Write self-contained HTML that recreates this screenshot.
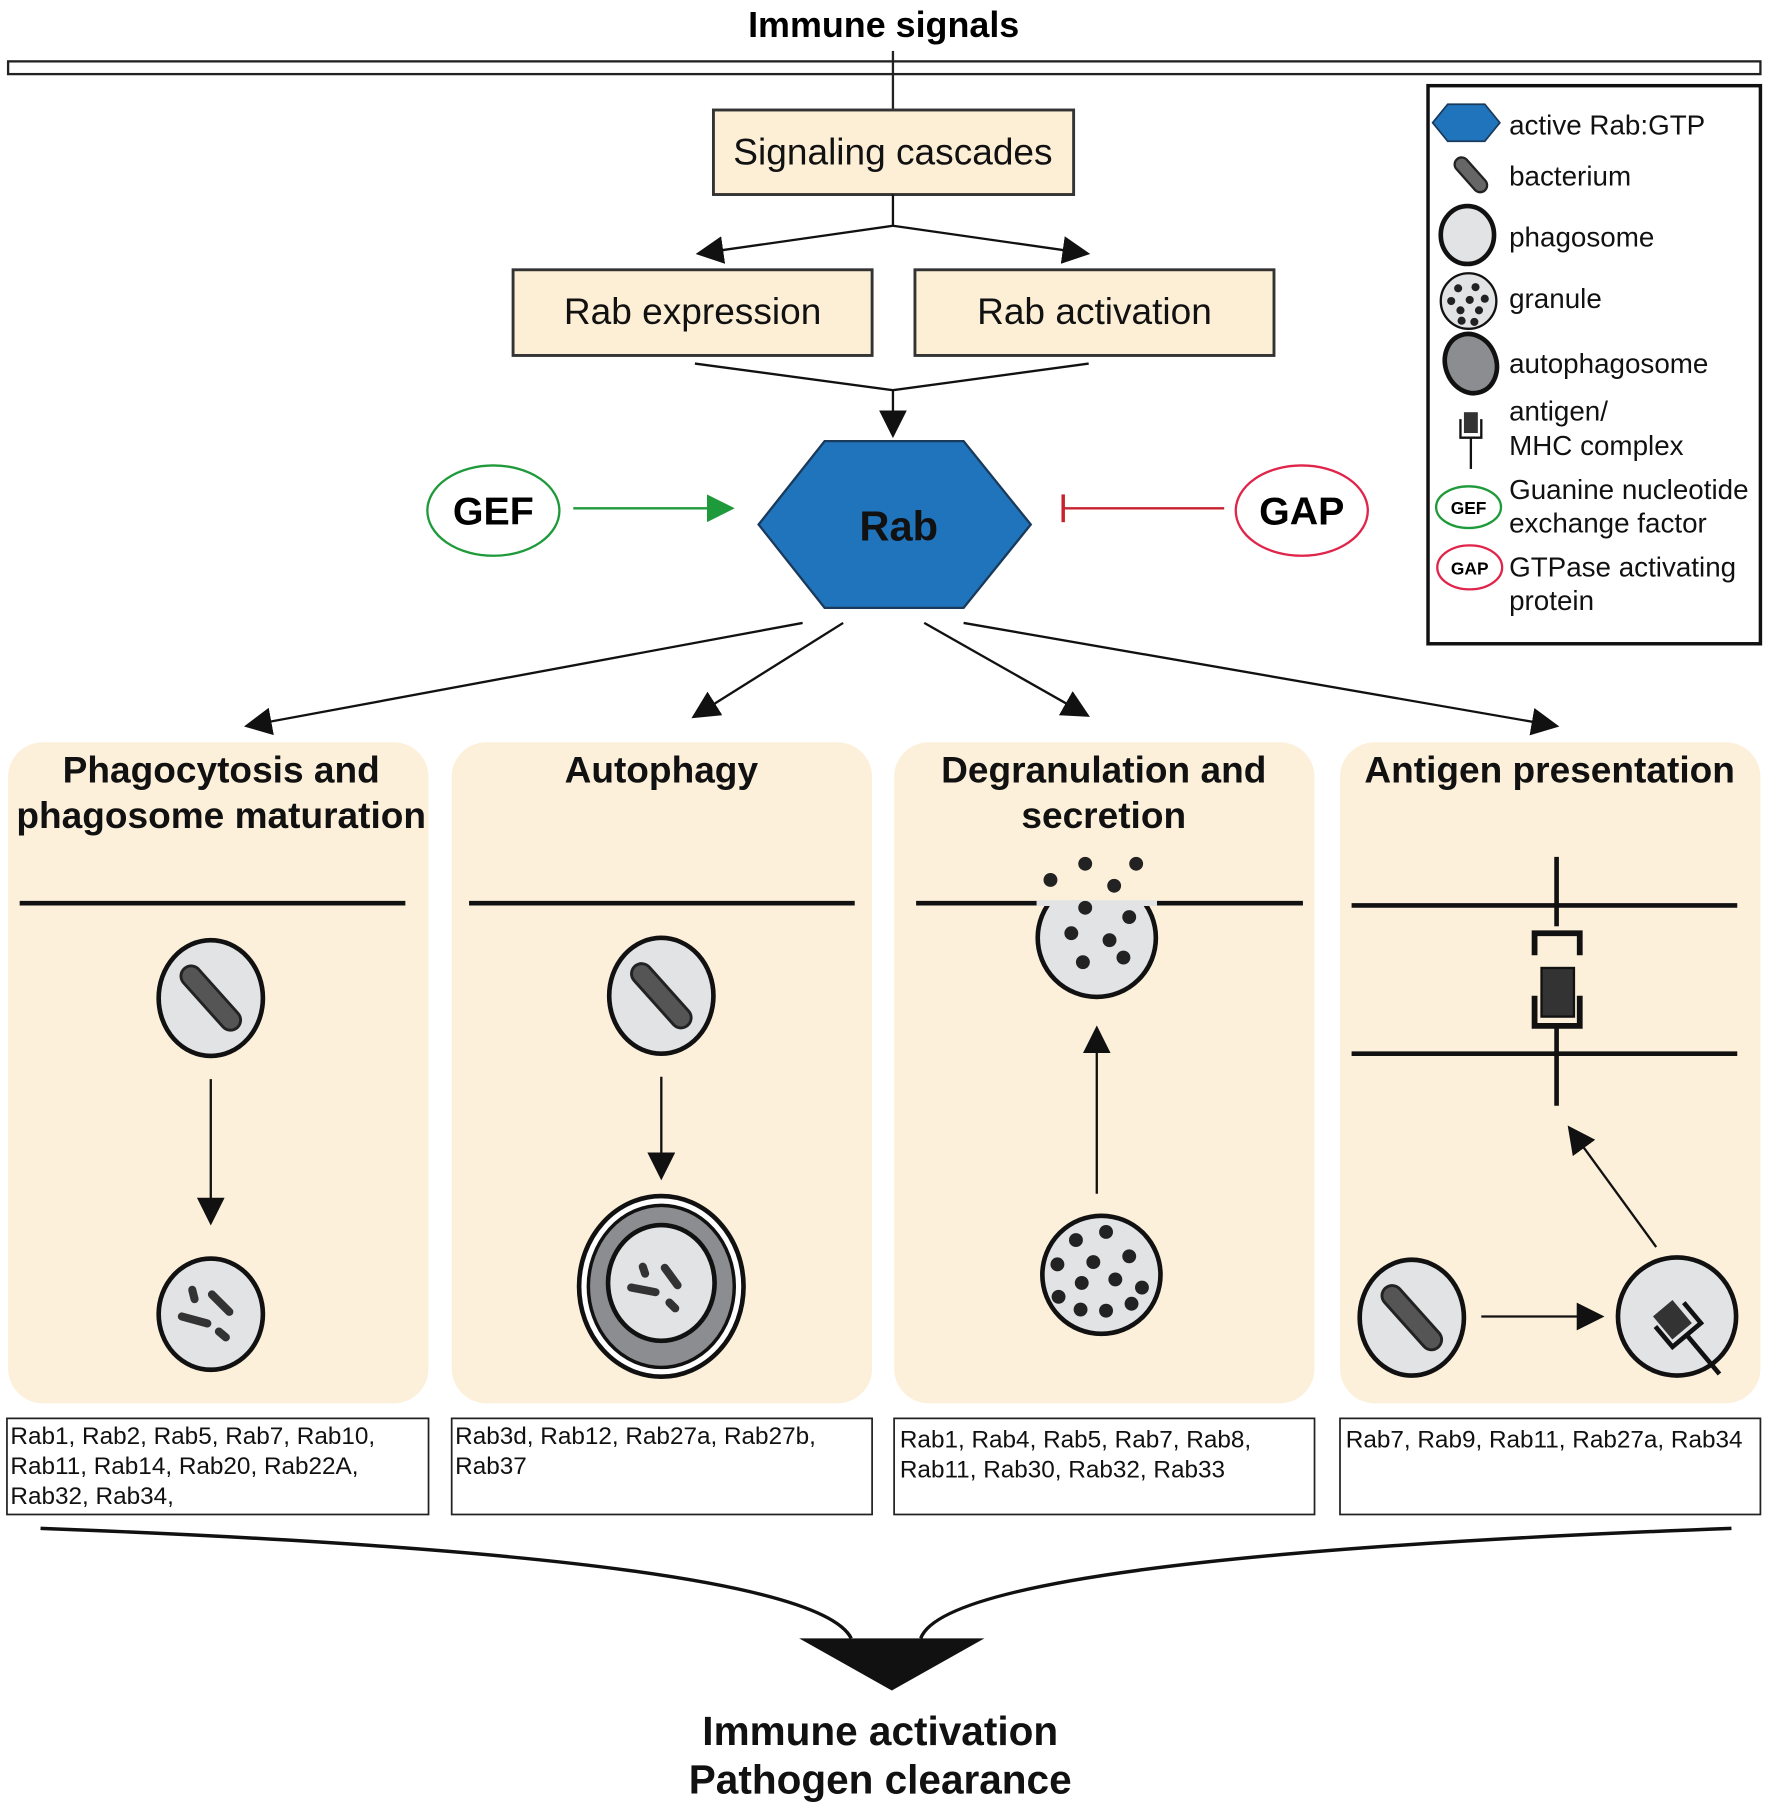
<!DOCTYPE html>
<html><head><style>
html,body{margin:0;padding:0;background:#fff;}
svg{display:block;font-family:"Liberation Sans",Arial,sans-serif;}
</style></head><body>
<svg width="1772" height="1819" viewBox="0 0 1530 1571" preserveAspectRatio="none" xmlns="http://www.w3.org/2000/svg">
<defs>
<marker id="ahb" viewBox="0 0 10 10" refX="9" refY="5" markerWidth="24" markerHeight="24" markerUnits="userSpaceOnUse" orient="auto"><path d="M0,0L10,5L0,10z" fill="#111"/></marker>
<marker id="ahg" viewBox="0 0 10 10" refX="9" refY="5" markerWidth="24" markerHeight="24" markerUnits="userSpaceOnUse" orient="auto"><path d="M0,0L10,5L0,10z" fill="#1f9a3a"/></marker>
</defs>
<text x="763" y="32" font-size="31" font-weight="bold" text-anchor="middle">Immune signals</text>
<rect x="7" y="53" width="1513" height="11" fill="#fff" stroke="#222" stroke-width="2"/>
<line x1="771" y1="44" x2="771" y2="95" stroke="#222" stroke-width="2"/>
<g fill="#fdefd6" stroke="#333" stroke-width="2.5">
<rect x="616" y="95" width="311" height="73"/>
<rect x="443" y="233" width="310" height="74"/>
<rect x="790" y="233" width="310" height="74"/>
</g>
<g font-size="32" text-anchor="middle" fill="#111">
<text x="771" y="142">Signaling cascades</text>
<text x="598" y="280">Rab expression</text>
<text x="945" y="280">Rab activation</text>
</g>
<g stroke="#111" stroke-width="2" fill="none">
<line x1="771" y1="168" x2="771" y2="195"/>
<line x1="771" y1="195" x2="603" y2="219" marker-end="url(#ahb)"/>
<line x1="771" y1="195" x2="939" y2="219" marker-end="url(#ahb)"/>
<polyline points="600,314 771,337 940,314"/>
<line x1="771" y1="337" x2="771" y2="376" marker-end="url(#ahb)"/>
<line x1="693" y1="538" x2="213" y2="627" marker-end="url(#ahb)"/>
<line x1="728" y1="538" x2="599" y2="619" marker-end="url(#ahb)"/>
<line x1="798" y1="538" x2="939" y2="618" marker-end="url(#ahb)"/>
<line x1="832" y1="538" x2="1344" y2="627" marker-end="url(#ahb)"/>
</g>
<polygon points="655,453 712,381 832,381 890,453 832,525 712,525" fill="#1f74bb" stroke="#1a3a5c" stroke-width="2"/>
<text x="776" y="467" font-size="36" font-weight="bold" text-anchor="middle" fill="#111">Rab</text>
<ellipse cx="426" cy="441" rx="57" ry="39" fill="#fff" stroke="#1f9a3a" stroke-width="2"/>
<text x="426" y="453" font-size="34" font-weight="bold" text-anchor="middle">GEF</text>
<line x1="495" y1="439" x2="632" y2="439" stroke="#1f9a3a" stroke-width="2" marker-end="url(#ahg)"/>
<ellipse cx="1124" cy="441" rx="57" ry="39" fill="#fff" stroke="#e0244a" stroke-width="2"/>
<text x="1124" y="453" font-size="34" font-weight="bold" text-anchor="middle">GAP</text>
<line x1="918" y1="439" x2="1057" y2="439" stroke="#c8222e" stroke-width="2"/>
<line x1="918" y1="427" x2="918" y2="451" stroke="#c8222e" stroke-width="3"/>
<rect x="1233" y="74" width="287" height="482" fill="#fff" stroke="#111" stroke-width="3"/>
<g font-size="24" fill="#111">
<text x="1303" y="116">active Rab:GTP</text>
<text x="1303" y="160">bacterium</text>
<text x="1303" y="213">phagosome</text>
<text x="1303" y="266">granule</text>
<text x="1303" y="322">autophagosome</text>
<text x="1303" y="363">antigen/</text>
<text x="1303" y="393">MHC complex</text>
<text x="1303" y="431">Guanine nucleotide</text>
<text x="1303" y="460">exchange factor</text>
<text x="1303" y="498">GTPase activating</text>
<text x="1303" y="527">protein</text>
</g>
<polygon points="1237,106 1250,90 1282,90 1295,106 1282,122 1250,122" fill="#1f74bb" stroke="#1a3a5c" stroke-width="1.5"/>
<line x1="1262" y1="142" x2="1278" y2="160" stroke="#222" stroke-width="14" stroke-linecap="round"/>
<line x1="1262" y1="142" x2="1278" y2="160" stroke="#666" stroke-width="10" stroke-linecap="round"/>
<ellipse cx="1267" cy="203" rx="23" ry="25" fill="#e2e3e5" stroke="#111" stroke-width="4"/>
<circle cx="1268" cy="260" r="24" fill="#e2e3e5" stroke="#111" stroke-width="2"/>
<g fill="#222"><circle cx="1259" cy="249" r="3.5"/><circle cx="1274" cy="248" r="3.5"/><circle cx="1253" cy="260" r="3.5"/><circle cx="1269" cy="259" r="3.5"/><circle cx="1282" cy="258" r="3.5"/><circle cx="1261" cy="268" r="3.5"/><circle cx="1277" cy="268" r="3.5"/><circle cx="1262" cy="277" r="3.5"/><circle cx="1273" cy="278" r="3.5"/></g>
<ellipse cx="1270" cy="314" rx="22" ry="26" fill="#8c8d90" stroke="#111" stroke-width="4" transform="rotate(-20 1270 314)"/>
<rect x="1264" y="356" width="12" height="18" fill="#333"/>
<polyline points="1261,362 1261,378 1279,378 1279,362" fill="none" stroke="#111" stroke-width="2"/>
<line x1="1270" y1="378" x2="1270" y2="405" stroke="#111" stroke-width="2"/>
<ellipse cx="1268" cy="438" rx="28" ry="18" fill="#fff" stroke="#1f9a3a" stroke-width="2"/>
<text x="1268" y="444" font-size="15" font-weight="bold" text-anchor="middle">GEF</text>
<ellipse cx="1269" cy="490" rx="28" ry="19" fill="#fff" stroke="#e0244a" stroke-width="2"/>
<text x="1269" y="496" font-size="15" font-weight="bold" text-anchor="middle">GAP</text>
<g fill="#fdf0db">
<rect x="7" y="641" width="363" height="571" rx="30"/>
<rect x="390" y="641" width="363" height="571" rx="30"/>
<rect x="772" y="641" width="363" height="571" rx="30"/>
<rect x="1157" y="641" width="363" height="571" rx="30"/>
</g>
<g font-size="32" font-weight="bold" text-anchor="middle" fill="#111">
<text x="191" y="676">Phagocytosis and</text>
<text x="191" y="715">phagosome maturation</text>
<text x="571" y="676">Autophagy</text>
<text x="953" y="676">Degranulation and</text>
<text x="953" y="715">secretion</text>
<text x="1338" y="676">Antigen presentation</text>
</g>
<g stroke="#111" stroke-width="4">
<line x1="17" y1="780" x2="350" y2="780"/>
<line x1="405" y1="780" x2="738" y2="780"/>
<line x1="791" y1="780" x2="1125" y2="780"/>
<line x1="1167" y1="782" x2="1500" y2="782"/>
<line x1="1167" y1="910" x2="1500" y2="910"/>
</g>
<ellipse cx="182" cy="862" rx="45" ry="50" fill="#e2e3e5" stroke="#111" stroke-width="4"/>
<line x1="165" y1="843" x2="199" y2="881" stroke="#222" stroke-width="20" stroke-linecap="round"/>
<line x1="165" y1="843" x2="199" y2="881" stroke="#555" stroke-width="15" stroke-linecap="round"/>
<line x1="182" y1="932" x2="182" y2="1056" stroke="#111" stroke-width="2" marker-end="url(#ahb)"/>
<ellipse cx="182" cy="1135" rx="45" ry="48" fill="#e2e3e5" stroke="#111" stroke-width="4"/>
<g stroke="#333" stroke-width="7" stroke-linecap="round"><line x1="166" y1="1114" x2="168" y2="1122"/><line x1="183" y1="1118" x2="198" y2="1133"/><line x1="157" y1="1137" x2="179" y2="1143"/><line x1="189" y1="1150" x2="195" y2="1155"/></g>
<ellipse cx="571" cy="860" rx="45" ry="50" fill="#e2e3e5" stroke="#111" stroke-width="4"/>
<line x1="554" y1="841" x2="588" y2="879" stroke="#222" stroke-width="20" stroke-linecap="round"/>
<line x1="554" y1="841" x2="588" y2="879" stroke="#555" stroke-width="15" stroke-linecap="round"/>
<line x1="571" y1="930" x2="571" y2="1017" stroke="#111" stroke-width="2" marker-end="url(#ahb)"/>
<ellipse cx="571" cy="1111" rx="71" ry="78" fill="#fff" stroke="#111" stroke-width="4"/>
<ellipse cx="571" cy="1111" rx="63" ry="70" fill="#8c8d90" stroke="#111" stroke-width="3"/>
<ellipse cx="571" cy="1108" rx="46" ry="50" fill="#e2e3e5" stroke="#111" stroke-width="4"/>
<g stroke="#333" stroke-width="7" stroke-linecap="round"><line x1="555" y1="1094" x2="557" y2="1100"/><line x1="574" y1="1095" x2="585" y2="1110"/><line x1="545" y1="1112" x2="566" y2="1116"/><line x1="578" y1="1125" x2="583" y2="1130"/></g>
<circle cx="947" cy="810" r="51" fill="#e2e3e5" stroke="#111" stroke-width="4"/>
<rect x="900" y="750" width="96" height="28" fill="#fdf0db"/>
<line x1="895" y1="780" x2="999" y2="780" stroke="#e2e3e5" stroke-width="5"/>
<g fill="#222"><circle cx="907" cy="760" r="6"/><circle cx="937" cy="746" r="6"/><circle cx="981" cy="746" r="6"/><circle cx="962" cy="765" r="6"/><circle cx="937" cy="784" r="6"/><circle cx="925" cy="806" r="6"/><circle cx="958" cy="812" r="6"/><circle cx="975" cy="792" r="6"/><circle cx="935" cy="831" r="6"/><circle cx="970" cy="827" r="6"/></g>
<line x1="947" y1="1031" x2="947" y2="888" stroke="#111" stroke-width="2" marker-end="url(#ahb)"/>
<circle cx="951" cy="1101" r="51" fill="#e2e3e5" stroke="#111" stroke-width="4"/>
<g fill="#222"><circle cx="929" cy="1071" r="6"/><circle cx="955" cy="1064" r="6"/><circle cx="913" cy="1092" r="6"/><circle cx="944" cy="1090" r="6"/><circle cx="975" cy="1085" r="6"/><circle cx="934" cy="1108" r="6"/><circle cx="963" cy="1105" r="6"/><circle cx="914" cy="1120" r="6"/><circle cx="986" cy="1112" r="6"/><circle cx="933" cy="1131" r="6"/><circle cx="955" cy="1132" r="6"/><circle cx="977" cy="1126" r="6"/></g>
<line x1="1344" y1="740" x2="1344" y2="955" stroke="#111" stroke-width="4"/>
<rect x="1322" y="800" width="44" height="88" fill="#fdf0db"/>
<polyline points="1325,825 1325,806 1364,806 1364,825" fill="none" stroke="#111" stroke-width="5"/>
<polyline points="1325,860 1325,886 1364,886 1364,860" fill="none" stroke="#111" stroke-width="5"/>
<rect x="1331" y="836" width="28" height="42" fill="#333" stroke="#111" stroke-width="2"/>
<line x1="1430" y1="1077" x2="1355" y2="974" stroke="#111" stroke-width="2" marker-end="url(#ahb)"/>
<ellipse cx="1219" cy="1138" rx="45" ry="50" fill="#e2e3e5" stroke="#111" stroke-width="4"/>
<line x1="1202" y1="1119" x2="1236" y2="1157" stroke="#222" stroke-width="20" stroke-linecap="round"/>
<line x1="1202" y1="1119" x2="1236" y2="1157" stroke="#555" stroke-width="15" stroke-linecap="round"/>
<line x1="1279" y1="1137" x2="1383" y2="1137" stroke="#111" stroke-width="2" marker-end="url(#ahb)"/>
<circle cx="1448" cy="1137" r="51" fill="#e2e3e5" stroke="#111" stroke-width="4"/>
<g transform="rotate(-40 1448 1143)"><rect x="1436" y="1125" width="22" height="26" fill="#333"/><polyline points="1432,1133 1432,1156 1464,1156 1464,1133" fill="none" stroke="#111" stroke-width="4"/><line x1="1448" y1="1156" x2="1448" y2="1200" stroke="#111" stroke-width="4"/></g>
<g fill="#fff" stroke="#222" stroke-width="1.5">
<rect x="6" y="1225" width="364" height="83"/>
<rect x="390" y="1225" width="363" height="83"/>
<rect x="772" y="1225" width="363" height="83"/>
<rect x="1157" y="1225" width="363" height="83"/>
</g>
<g font-size="21" fill="#111">
<text x="9" y="1247">Rab1, Rab2, Rab5, Rab7, Rab10,</text>
<text x="9" y="1273">Rab11, Rab14, Rab20, Rab22A,</text>
<text x="9" y="1299">Rab32, Rab34,</text>
<text x="393" y="1247">Rab3d, Rab12, Rab27a, Rab27b,</text>
<text x="393" y="1273">Rab37</text>
<text x="777" y="1250">Rab1, Rab4, Rab5, Rab7, Rab8,</text>
<text x="777" y="1276">Rab11, Rab30, Rab32, Rab33</text>
<text x="1162" y="1250">Rab7, Rab9, Rab11, Rab27a, Rab34</text>
</g>
<path d="M35,1320 Q700,1345 735,1415" fill="none" stroke="#111" stroke-width="3"/>
<path d="M1495,1320 Q820,1345 795,1415" fill="none" stroke="#111" stroke-width="3"/>
<polygon points="690,1415 850,1415 770,1460" fill="#111"/>
<g font-size="35" font-weight="bold" text-anchor="middle" fill="#111">
<text x="760" y="1507">Immune activation</text>
<text x="760" y="1549">Pathogen clearance</text>
</g>
</svg>
</body></html>
